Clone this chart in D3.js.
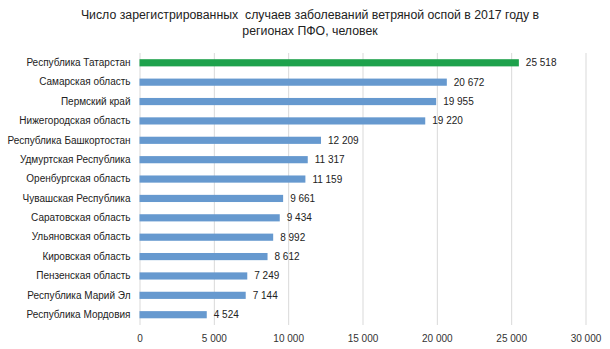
<!DOCTYPE html>
<html><head><meta charset="utf-8">
<script src="https://cdn.jsdelivr.net/npm/d3@7"></script>
<style>body{margin:0;background:#fff}svg{display:block}</style>
</head><body>
<svg id="c" width="610" height="349"></svg>
<script>
const regions = ["Республика Татарстан","Самарская область","Пермский край","Нижегородская область","Республика Башкортостан","Удмуртская Республика","Оренбургская область","Чувашская Республика","Саратовская область","Ульяновская область","Кировская область","Пензенская область","Республика Марий Эл","Республика Мордовия"];
const cases = [25518,20672,19955,19220,12209,11317,11159,9661,9434,8992,8612,7249,7144,4524];
const tickValues = [0,5000,10000,15000,20000,25000,30000];
const titleLines = ["Число зарегистрированных  случаев заболеваний ветряной оспой в 2017 году в","регионах ПФО, человек"];

const svg = d3.select("#c");
const font = "'Liberation Sans', Arial, sans-serif";
const x = d3.scaleLinear().domain([0,30000]).range([139.5,585.5]);
const y = d3.scaleBand().domain(regions).range([53,324.5]).paddingInner(0.63).paddingOuter(0.32);
const fmt = v => d3.format(",")(v).replace(/,/g," ");

svg.append("g").selectAll("text").data(titleLines).join("text")
  .attr("x",310).attr("y",(d,i)=>19+i*16).attr("text-anchor","middle")
  .style("white-space","pre")
  .attr("font-family",font).attr("font-size","12.3px").attr("fill","#222").text(d=>d);

const gx = svg.append("g").attr("transform","translate(0,325)")
  .call(d3.axisBottom(x).tickValues(tickValues).tickFormat(fmt).tickSize(-272).tickPadding(10));
gx.select(".domain").remove();
gx.selectAll(".tick line").attr("stroke","#d9d9d9");
gx.selectAll(".tick text").attr("font-family",font).attr("font-size","10px").attr("fill","#333");

const gy = svg.append("g").attr("transform","translate(139.5,0)")
  .call(d3.axisLeft(y).tickSize(0).tickPadding(9));
gy.select(".domain").remove();
gy.selectAll(".tick text").attr("font-family",font).attr("font-size","10px").attr("fill","#222");

svg.append("g").selectAll("rect").data(regions).join("rect")
  .attr("x",x(0)).attr("y",d=>y(d)).attr("height",y.bandwidth())
  .attr("width",(d,i)=>x(cases[i])-x(0))
  .attr("fill",(d,i)=>i===0?"#1ea24c":"#6699cf");

svg.append("g").selectAll("text").data(regions).join("text")
  .attr("x",(d,i)=>x(cases[i])+7).attr("y",d=>y(d)+y.bandwidth()/2).attr("dy","0.35em")
  .attr("font-family",font).attr("font-size","10px").attr("fill","#222")
  .text((d,i)=>fmt(cases[i]));
</script>
</body></html>
